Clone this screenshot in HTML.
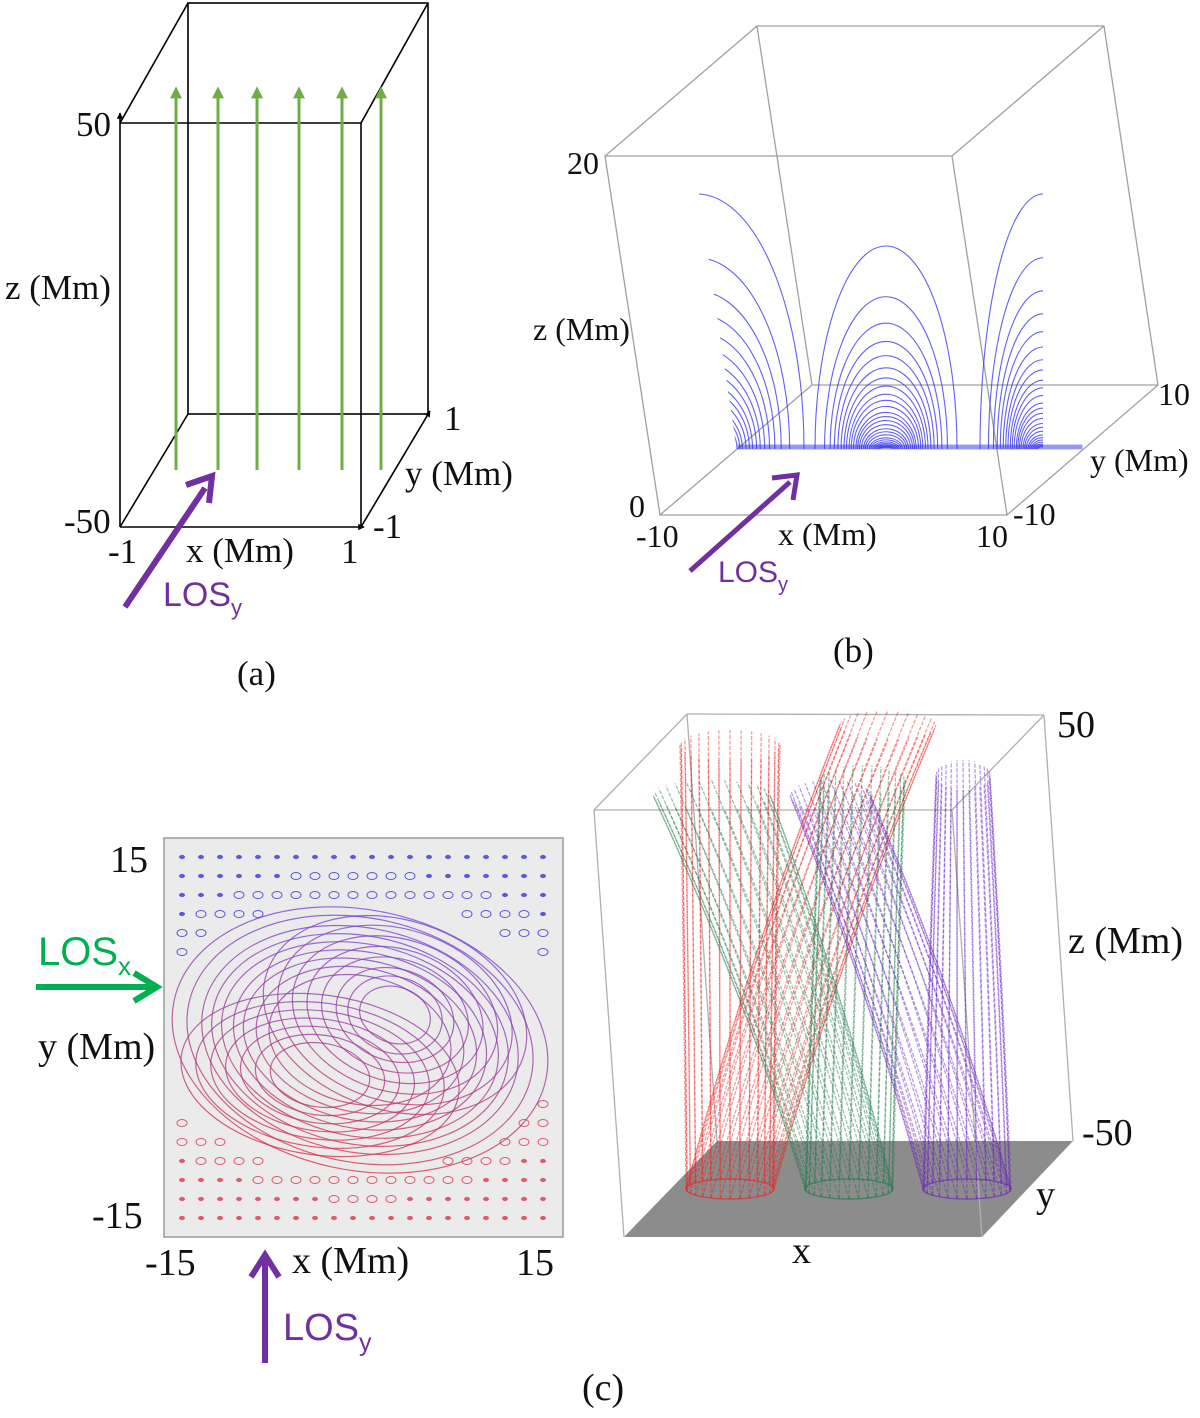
<!DOCTYPE html>
<html><head><meta charset="utf-8"><style>
html,body{margin:0;padding:0;background:#fff;}
svg{display:block;}
.s{font-family:"Liberation Serif",serif;fill:#111;}
.los{font-family:"Liberation Sans",sans-serif;}
</style></head><body>
<svg id="fig" width="1200" height="1418" viewBox="0 0 1200 1418">
<defs>
<marker id="ah" viewBox="0 0 10 10" refX="9" refY="5" markerWidth="4" markerHeight="4" orient="auto"><path d="M0,0 L10,5 L0,10 z" fill="#000"/></marker>
<marker id="gh" viewBox="0 0 10 10" refX="2" refY="5" markerWidth="4" markerHeight="4" orient="auto"><path d="M0,0 L10,5 L0,10 z" fill="#70ad47"/></marker>
<linearGradient id="swirl" gradientUnits="userSpaceOnUse" x1="0" y1="900" x2="0" y2="1170"><stop offset="0" stop-color="#6a3fe0"/><stop offset="0.5" stop-color="#9a3a9a"/><stop offset="1" stop-color="#e02a3a"/></linearGradient>
<clipPath id="bclip"><polygon points="697,180 1085,180 1085,452 737,452"/></clipPath>
</defs>

<g id="panel-a" fill="none" stroke="#000" stroke-width="1.6">
<rect x="188" y="3" width="240" height="411"/>
<line x1="120" y1="123" x2="188" y2="3"/><line x1="361" y1="123" x2="428" y2="3"/>
<line x1="120" y1="527" x2="188" y2="414"/>
<line x1="120" y1="123" x2="361" y2="123"/><line x1="361" y1="123" x2="361" y2="527"/>
<line x1="120" y1="527" x2="120" y2="113" marker-end="url(#ah)"/>
<line x1="120" y1="527" x2="364" y2="527" marker-end="url(#ah)"/>
<line x1="361" y1="527" x2="430" y2="411" marker-end="url(#ah)"/>
</g>
<g id="green-arrows"></g>
<line x1="125" y1="607" x2="205" y2="488" stroke="#7030a0" stroke-width="6"/>
<polyline points="186,485 212,476 209,503" fill="none" stroke="#7030a0" stroke-width="6"/>
<g class="s" font-size="35">
<text x="76" y="136">50</text>
<text x="5" y="299">z (Mm)</text>
<text x="64" y="533">-50</text>
<text x="108" y="563">-1</text>
<text x="186" y="562">x (Mm)</text>
<text x="341" y="563">1</text>
<text x="444" y="430">1</text>
<text x="405" y="485">y (Mm)</text>
<text x="373" y="538">-1</text>
<text x="237" y="685">(a)</text>
</g>
<text class="los" x="163" y="606" font-size="34" fill="#7030a0">LOS<tspan font-size="22" dy="9">y</tspan></text>

<g id="panel-b-box" fill="none" stroke="#a0a0a0" stroke-width="1.3">
<polygon points="757,26 1104,26 1158,385 812,385"/>
<polygon points="605,156 952,156 1007,515 660,515"/>
<line x1="605" y1="156" x2="757" y2="26"/><line x1="952" y1="156" x2="1104" y2="26"/>
<line x1="660" y1="515" x2="812" y2="385"/><line x1="1007" y1="515" x2="1158" y2="385"/>
</g>
<g id="arcs" clip-path="url(#bclip)" fill="none" stroke="#3838f0" stroke-width="1.1" stroke-opacity="0.8"></g>
<line x1="690" y1="571" x2="790" y2="482" stroke="#7030a0" stroke-width="5"/>
<polyline points="772,478 797,475 793,500" fill="none" stroke="#7030a0" stroke-width="5"/>
<g class="s" font-size="32">
<text x="567" y="174">20</text>
<text x="533" y="340">z (Mm)</text>
<text x="1158" y="405">10</text>
<text x="1090" y="471">y (Mm)</text>
<text x="1013" y="525">-10</text>
<text x="629" y="517">0</text>
<text x="636" y="547">-10</text>
<text x="778" y="545">x (Mm)</text>
<text x="976" y="547">10</text>
</g>
<text class="s" x="833" y="662" font-size="35">(b)</text>
<text class="los" x="718" y="582" font-size="30" fill="#7030a0">LOS<tspan font-size="20" dy="9">y</tspan></text>

<rect x="164" y="838" width="399" height="399" fill="#ebebeb" stroke="#9a9a9a" stroke-width="1.5"/>
<g id="dots"></g>
<g id="swirls" fill="none" stroke="url(#swirl)" stroke-width="1.2" stroke-opacity="0.75"></g>
<g class="s" font-size="38">
<text x="110" y="872">15</text>
<text x="38" y="1059">y (Mm)</text>
<text x="92" y="1228">-15</text>
<text x="145" y="1275">-15</text>
<text x="292" y="1273">x (Mm)</text>
<text x="516" y="1275">15</text>
<text x="582" y="1400">(c)</text>
</g>
<text class="los" x="38" y="965" font-size="40" fill="#00b050">LOS<tspan font-size="26" dy="10">x</tspan></text>
<line x1="36" y1="987" x2="154" y2="987" stroke="#00b050" stroke-width="6"/>
<polyline points="134,973 157,987 134,1001" fill="none" stroke="#00b050" stroke-width="6"/>
<line x1="265" y1="1363" x2="265" y2="1258" stroke="#7030a0" stroke-width="6"/>
<polyline points="251,1277 265,1255 279,1277" fill="none" stroke="#7030a0" stroke-width="6"/>
<text class="los" x="283" y="1340" font-size="38" fill="#7030a0">LOS<tspan font-size="25" dy="11">y</tspan></text>

<polygon points="624,1237 982,1237 1073,1141 717,1141" fill="#8c8c8c"/>
<g fill="none" stroke="#b0b0b0" stroke-width="1.3">
<line x1="687" y1="714" x2="1044" y2="715"/><line x1="687" y1="714" x2="717" y2="1141"/>
<line x1="1044" y1="715" x2="1073" y2="1141"/><line x1="687" y1="714" x2="594" y2="810"/>
<line x1="1044" y1="715" x2="952" y2="810"/><line x1="594" y1="810" x2="952" y2="810"/>
<line x1="594" y1="810" x2="624" y2="1237"/><line x1="952" y1="810" x2="982" y2="1237"/>
</g>
<g id="bundles" fill="none"></g>
<g class="s" font-size="38">
<text x="1057" y="737">50</text>
<text x="1068" y="953">z (Mm)</text>
<text x="1082" y="1145">-50</text>
<text x="1036" y="1207">y</text>
<text x="792" y="1263">x</text>
</g>
</svg>
<script>
var NS='http://www.w3.org/2000/svg';
var arrowX=[176,218,257,299,342,381];
var loopScale=[1,0.75,0.62,0.53,0.46,0.40,0.35,0.31,0.27,0.24,0.21,0.18,0.16,0.14,0.12,0.10,0.085,0.07,0.055,0.045,0.035,0.027,0.02,0.014,0.009];
var famCx=[697,886,1043];
var famRx=[107,71,63];
var famRy=[255,203,255];
var swCx=[360,395,320];
var swCy=[1040,1015,1075];
var swRx=[[190,175,160,150,140,128,118,105,92],[135,120,105,90,75,60,48,36],[140,125,110,95,80,65,50]];
var swRy=[[130,122,112,104,96,88,80,72,64],[95,86,76,66,56,46,38,28],[80,72,64,56,48,40,32]];
var swRot=[12,18,8];
var bunCx=[730,849,967];
var bunColor=['#f02020','#1e7a4a','#6a22c0'];
var bunTopA=[[680,780,745],[653,770,795],[936,990,775]];
var bunTopB=[[840,936,725],[820,905,780],[790,870,795]];

function el(t,a,p){var e=document.createElementNS(NS,t);for(var k in a)e.setAttribute(k,a[k]);p.appendChild(e);return e;}

var ga=document.getElementById('green-arrows');
arrowX.forEach(function(x){
 var l=el('line',{x1:x,y1:470,x2:x,y2:96,stroke:'#70ad47','stroke-width':3,'marker-end':'url(#gh)'},ga);
 
 
});

var arcs=document.getElementById('arcs');var base=449;
for(var f=0;f<3;f++){loopScale.forEach(function(s){
 var cx=famCx[f],rx=famRx[f]*Math.sqrt(s),ry=famRy[f]*s,d;
 if(f==0)d='M'+cx+','+(base-ry)+' A'+rx+','+ry+' 0 0 1 '+(cx+rx)+','+base;
 else if(f==1)d='M'+(cx-rx)+','+base+' A'+rx+','+ry+' 0 0 1 '+(cx+rx)+','+base;
 else d='M'+(cx-rx)+','+base+' A'+rx+','+ry+' 0 0 1 '+cx+','+(base-ry);
 var p=el('path',{d:d},arcs);
 
 
});}
el('rect',{x:738,y:445,width:344,height:4,fill:'#3030f0',opacity:0.5},arcs);

var dots=document.getElementById('dots');
for(var i=0;i<20;i++)for(var j=0;j<20;j++){
 var x=182+19*i,y=857+19*j;
 var dx=(x-360)/205,dy=(y-1035)/135;
 var r2=dx*dx+dy*dy;
 if(r2<1.05)continue;
 var big=(r2<1.5)?1:0;
 var col=y<1035?'#5a5ae0':'#e05a6a';
 var e=el('ellipse',{cx:x,cy:y,rx:big?5:2.5,ry:big?3.5:1.6,fill:big?'none':col,stroke:col,'stroke-width':1},dots);
 
 
}
var sw=document.getElementById('swirls');
for(var k=0;k<3;k++)for(var m=0;m<swRx[k].length;m++){
 var e2=el('ellipse',{cx:swCx[k],cy:swCy[k],rx:swRx[k][m],ry:swRy[k][m],transform:'rotate('+swRot[k]+' '+swCx[k]+' '+swCy[k]+')'},sw);
 
 
}

var bg=document.getElementById('bundles');
for(var b=0;b<3;b++){
 var cx=bunCx[b],cy=1189;
 var ell=el('ellipse',{cx:cx,cy:cy,rx:44,ry:10,stroke:bunColor[b],'stroke-width':1.5,'stroke-opacity':0.6},bg);
 
 
 [bunTopA[b],bunTopB[b]].forEach(function(t){
  for(var n=0;n<28;n++){
   var th=Math.PI*2*n/28;
   var bx=cx+44*Math.cos(th),by=cy+10*Math.sin(th);
   var tx=t[0]+(t[1]-t[0])*((Math.cos(th)+1)/2),ty=t[2]+15*Math.sin(th);
   var my=(by+ty)/2;
   var p=el('path',{d:'M'+bx+','+by+' Q'+(bx*0.6+tx*0.4)+','+my+' '+tx+','+ty,stroke:bunColor[b],'stroke-width':1.3,'stroke-opacity':0.45,'stroke-dasharray':'4 1.5'},bg);
   
   
  }
 });
}
</script>
</body></html>
